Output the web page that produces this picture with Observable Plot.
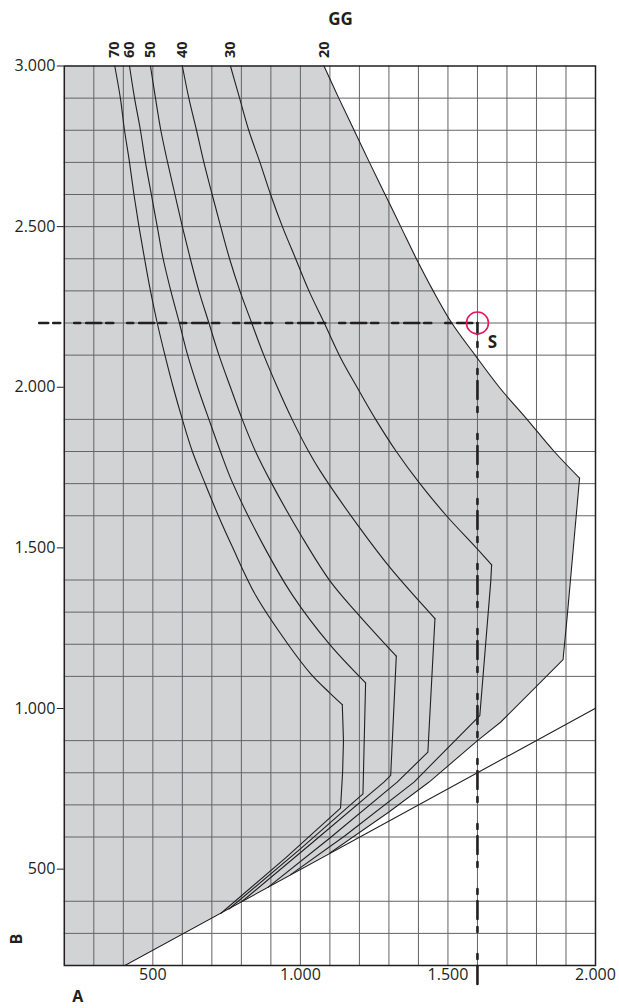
<!DOCTYPE html>
<html><head><meta charset="utf-8">
<script src="https://cdn.jsdelivr.net/npm/d3@7"></script>
<script src="https://cdn.jsdelivr.net/npm/@observablehq/plot@0.6"></script>
<style>body{margin:0;background:#fff;} svg{display:block}</style>
</head><body><div id="chart"></div>
<script>
// ---- data ----
const xTicks = [500, 1000, 1500, 2000];
const yTicks = [500, 1000, 1500, 2000, 2500, 3000];
const xGrid = [300, 400, 500, 600, 700, 800, 900, 1000, 1100, 1200, 1300, 1400, 1500, 1600, 1700, 1800, 1900];
const yGrid = [300, 400, 600, 700, 800, 900, 1100, 1200, 1300, 1400, 1600, 1700, 1800, 1900, 2100, 2200, 2300, 2400, 2500, 2600, 2700, 2800, 2900];

const curveLabels = ["70", "60", "50", "40", "30", "20"];

const c70Upper = [[371,3000],[390,2900],[404,2800],[421,2700],[436,2600],[453,2500],[472,2400],[492,2300],[515,2200],[541,2100],[569,2000],[600,1900],[634,1800],[674,1707],[722,1600],[769,1504],[848,1353],[958,1200],[1035,1108],[1100,1048],[1142,1012]];
const c70Lower = [[1142,1012],[1146,900],[1143,800],[1136,690],[950,535],[730,362]];

const c60Upper = [[421,3000],[438,2900],[458,2800],[475,2700],[495,2600],[515,2500],[535,2400],[561,2300],[590,2200],[618,2100],[652,2000],[690,1900],[729,1800],[768,1707],[871,1514],[973,1353],[1097,1202],[1221,1080]];
const c60Lower = [[1221,1080],[1212,734],[1000,563],[758,376]];

const c50Upper = [[492,3000],[509,2900],[527,2800],[550,2700],[575,2600],[600,2500],[627,2400],[656,2300],[690,2200],[724,2100],[763,2000],[803,1900],[848,1800],[899,1707],[1001,1541],[1102,1395],[1198,1291],[1325,1163]];
const c50Lower = [[1325,1163],[1306,792],[1283,771],[1040,582],[803,400]];

const c40Upper = [[600,3000],[622,2900],[648,2800],[673,2700],[701,2600],[730,2500],[760,2400],[795,2300],[835,2200],[876,2100],[922,2000],[972,1900],[1028,1800],[1068,1738],[1198,1566],[1306,1436],[1456,1280]];
const c40Lower = [[1456,1280],[1432,864],[1328,771],[1100,597],[890,443]];

const c30Upper = [[763,3000],[794,2900],[825,2800],[863,2700],[899,2600],[939,2500],[984,2400],[1029,2300],[1081,2200],[1136,2092],[1192,2000],[1255,1900],[1325,1800],[1405,1700],[1495,1600],[1597,1499],[1648,1447]];
const c30Lower = [[1648,1447],[1645,1395],[1608,978],[1385,771],[1150,603],[967,483]];

const c20Upper = [[1080,3000],[1130,2900],[1182,2800],[1234,2700],[1287,2600],[1340,2500],[1393,2400],[1450,2300],[1513,2200],[1592,2100],[1674,2000],[1768,1900],[1860,1800],[1946,1717]];
const c20Lower = [[1946,1717],[1905,1296],[1890,1152],[1803,1072],[1679,958],[1600,900],[1436,771],[1300,678],[1100,550]];

const limitLine = [[405,200],[2000,1001]];

const sPoint = [1600, 2200];
const guideH = [[115,2200],[1600,2200]];
const guideV = [[1600,2200],[1600,137]];

// ---- build ----
const locale = d3.formatLocale({decimal: ",", thousands: ".", grouping: [3], currency: ["", ""]});
const fmt = locale.format(",d");

const region = [...c20Upper, ...c20Lower.slice(1), [405,200]];
const uppers = [c70Upper, c60Upper, c50Upper, c40Upper, c30Upper, c20Upper];
const lowers = [c70Lower, c60Lower, c50Lower, c40Lower, c30Lower, c20Lower];
const labelData = curveLabels.map((t, i) => ({t, x: uppers[i][0][0], y: uppers[i][0][1]}));

const ink = "#231f20";
const lineStyle = {x: d => d[0], y: d => d[1], stroke: ink, strokeWidth: 1.1};

const chart = Plot.plot({
  width: 619, height: 1008,
  marginLeft: 63.8, marginRight: 24, marginTop: 65.5, marginBottom: 43,
  x: {domain: [200, 2000]},
  y: {domain: [200, 3000]},
  style: {fontFamily: "'Open Sans', sans-serif", color: ink, background: "white"},
  marks: [
    Plot.areaX(region, {x1: 200, x2: d => d[0], y: d => d[1], fill: "#d1d3d4"}),
    Plot.ruleX(xGrid, {y1: 200, y2: 3000, stroke: "#636466", strokeWidth: 1}),
    Plot.ruleY(yGrid, {x1: 200, x2: 2000, stroke: "#636466", strokeWidth: 1}),
    ...uppers.map(c => Plot.line(c, {...lineStyle, curve: "catmull-rom"})),
    ...lowers.map(c => Plot.line(c, {...lineStyle, curve: "linear"})),
    Plot.line(limitLine, lineStyle),
    Plot.line(guideH, {x: d => d[0], y: d => d[1], stroke: ink, strokeWidth: 2.6, strokeDasharray: "15,5,7,14,6,6", strokeDashoffset: 6}),
    Plot.line(guideV, {x: d => d[0], y: d => d[1], stroke: ink, strokeWidth: 2.6, strokeDasharray: "18,8,5,22,5,7", strokeDashoffset: 7}),
    Plot.dot([sPoint], {x: d => d[0], y: d => d[1], r: 11, stroke: "#e3195b", strokeWidth: 1.6, fill: "none"}),
    Plot.text([sPoint], {x: d => d[0], y: d => d[1], text: () => "S", dx: 15, dy: 20, fontSize: 17, fontWeight: "bold", fill: ink}),
    Plot.frame({stroke: ink, strokeWidth: 1.5}),
    Plot.axisX({ticks: xTicks, tickFormat: fmt, tickSize: 0, tickPadding: 3, fontSize: 16, label: null, fill: ink}),
    Plot.axisY({ticks: yTicks, tickFormat: fmt, tickSize: 7, tickPadding: 2, fontSize: 16, label: null, fill: ink, stroke: ink}),
    Plot.text(labelData, {x: "x", y: "y", text: "t", rotate: -90, textAnchor: "start", dy: -8, fontSize: 14.5, fontWeight: "bold", fill: ink}),
    Plot.text(["GG"], {frameAnchor: "top-left", lineAnchor: "middle", dx: 264, dy: -46, text: d => d, fontSize: 17, fontWeight: "bold", fill: ink}),
    Plot.text(["B"], {frameAnchor: "bottom-left", lineAnchor: "middle", dx: -47, dy: -21, text: d => d, rotate: -90, fontSize: 16, fontWeight: "bold", fill: ink}),
    Plot.text(["A"], {frameAnchor: "bottom-left", lineAnchor: "middle", dx: 8, dy: 31, text: d => d, fontSize: 16, fontWeight: "bold", fill: ink})
  ]
});
document.getElementById("chart").appendChild(chart);
</script></body></html>
